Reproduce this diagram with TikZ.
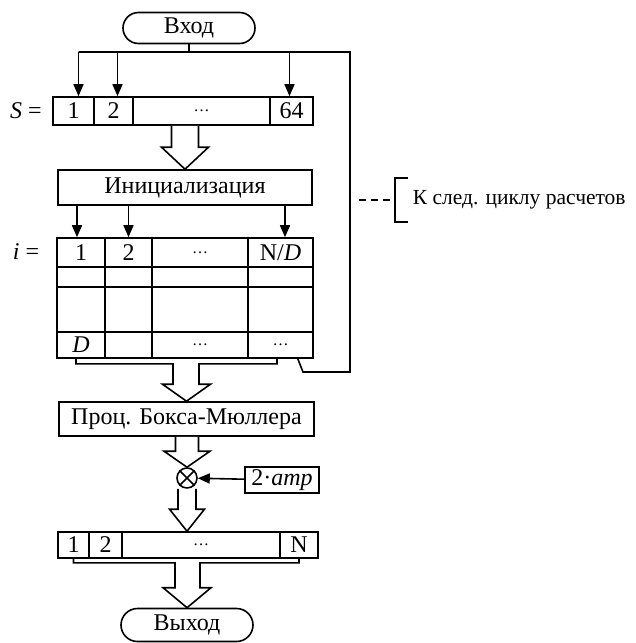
\documentclass[tikz,border=0pt]{standalone}
\usepackage{fontspec}
\setmainfont{Liberation Serif}
\usetikzlibrary{arrows.meta,calc,shapes.misc,positioning}

\tikzset{
  box/.style={draw, inner sep=0pt, fill=white},
  cell/.style={draw, inner sep=0pt},
  term/.style={draw, rounded rectangle, inner sep=0pt, minimum width=132, minimum height=31},
}

% hollow block arrow: start, tip, shaft half width, head half width, head length
\newcommand{\fatarrow}[5]{%
  \draw[fill=white, line join=miter] let \p1=(#1), \p2=(#2) in
    (\x2-#3pt,\y1) -- (\x2-#3pt,\y2+#5pt) -- (\x2-#4pt,\y2+#5pt) -- (\p2)
    -- (\x2+#4pt,\y2+#5pt) -- (\x2+#3pt,\y2+#5pt) -- (\x2+#3pt,\y1);
}
\newcommand{\ddd}{{\fontsize{16}{18}\selectfont …}}

\begin{document}
\begin{tikzpicture}[x=1pt, y=-1pt, line width=1.6pt,
    >={Triangle[length=12pt,width=10pt]},
    font=\fontsize{24}{27}\selectfont]
    \useasboundingbox (0,0) rectangle (635,643);

    % input and the row S
    \node[term] (in) at (189,28) {Вход};
    \node (slab) at (26,111) {\textit{S} =};
    \foreach \n/\xa/\xb/\txt in {1/53/94/1, 2/94/133/2, 3/133/270/\ddd, 4/270/313/64}
        \node[cell, minimum width={\xb-\xa}, minimum height=28] (s\n) at ({(\xa+\xb)/2},111) {\txt};
    \coordinate (bus) at (189,52);
    \coordinate (s1in) at ([xshift=5pt]s1.north);
    \coordinate (s2in) at ([xshift=4pt]s2.north);
    \coordinate (s4in) at ([xshift=-2pt]s4.north);
    \coordinate (lp1) at (303,372);
    \coordinate (lp2) at (350,372);
    \coordinate (lp3) at (350,52);
    \draw (in) -- (bus);
    \foreach \k in {s1in, s2in, s4in}
        \draw[->] (\k |- bus) -- (\k);

    % initialisation
    \node[box, minimum width=254, minimum height=35] (init) at (185,187.5) {Инициализация};
    \fatarrow{s3.south}{init.north}{13.5}{23.5}{22}

    % table i
    \node (ilab) at (26,252) {\textit{i} =};
    \foreach \r/\ya/\yb in {1/238/267, 2/267/287, 3/287/332, 4/332/358}
        \foreach \c/\xa/\xb in {1/57/105, 2/105/152, 3/152/248, 4/248/313}
            \node[cell, minimum width={\xb-\xa}, minimum height={\yb-\ya}] (t\r\c) at ({(\xa+\xb)/2},{(\ya+\yb)/2}) {};
    \foreach \c/\txt in {1/1, 2/2, 3/\ddd, 4/{N/\textit{D}}}
        \node (a\c) at (t1\c) {\txt};
    \foreach \c/\txt in {1/\textit{D}, 3/\ddd, 4/\ddd}
        \node (b\c) at (t4\c) {\txt};
    \coordinate (t1in) at ([xshift=-4pt]t11.north);
    \coordinate (t2in) at (t12.north);
    \coordinate (t4in) at ([xshift=4.5pt]t14.north);
    \foreach \k in {t1in, t2in, t4in}
        \draw[->] (\k |- init.south) -- (\k);

    % loop back and note
    \draw (s1in |- bus) -- (lp3) -- (lp2) -- (lp1) -- ([xshift=-16pt]t44.south east);
    \node[anchor=west, inner xsep=0pt, minimum height=42, font=\fontsize{21.5}{24}\selectfont] (note) at (412,200) {К след. циклу расчетов};
    \coordinate (dsh) at (359,200);
    \draw ([xshift=-4pt]note.north west) -- ([xshift=-17pt]note.north west)
        -- ([xshift=-17pt]note.south west) -- ([xshift=-4pt]note.south west);
    \draw[dash pattern=on 7pt off 5pt] (dsh) -- ([xshift=-17pt]note.west);

    % Box-Muller
    \node[box, minimum width=255, minimum height=34] (bm) at (186.5,419) {Проц. Бокса-Мюллера};
    \draw[line join=miter] let \p1=(t41.south), \p2=(t44.south), \p3=(bm.north) in
        (\x1-5pt,\y1) -- (\x1-5pt,\y1-5pt) -- (\x3-13.5pt,\y1-5pt) -- (\x3-13.5pt,\y3+17pt)
        -- (\x3-24pt,\y3+17pt) -- (\p3) -- (\x3+24pt,\y3+17pt) -- (\x3+12.5pt,\y3+17pt)
        -- (\x3+12.5pt,\y1-5pt) -- (\x2-3.5pt,\y1-5pt) -- (\x2-3.5pt,\y1);

    % scaling
    \node[circle, draw, minimum size=20, inner sep=0pt] (mult) at (187,478) {};
    \draw (mult.north east) -- (mult.south west) (mult.north west) -- (mult.south east);
    \fatarrow{bm.south}{mult.north}{11.5}{23}{16}
    \node[box, minimum width=74, minimum height=26] (amp) at (282,480) {2·\textit{amp}};
    \draw[->] (amp) -- (mult);

    % output row
    \foreach \n/\xa/\xb/\txt in {1/58/89/1, 2/89/122/2, 3/122/280/\ddd, 4/280/318/N}
        \node[cell, minimum width={\xb-\xa}, minimum height=26] (o\n) at ({(\xa+\xb)/2},545) {\txt};
    \fatarrow{mult.south}{o3.north -| mult}{9}{17.5}{22}

    % output
    \node[term, minimum height=33] (out) at (187,625) {Выход};
    \draw[line join=miter] let \p1=(o1.south), \p2=(o4.south), \p3=(out.north) in
        (\x1,\y1) -- (\x1,\y1-4pt) -- (\x3-12pt,\y1-4pt) -- (\x3-12pt,\y3+20pt)
        -- (\x3-24pt,\y3+20pt) -- (\p3) -- (\x3+24pt,\y3+20pt) -- (\x3+13pt,\y3+20pt)
        -- (\x3+13pt,\y1-4pt) -- (\x2,\y1-4pt) -- (\x2,\y1);
\end{tikzpicture}
\end{document}
